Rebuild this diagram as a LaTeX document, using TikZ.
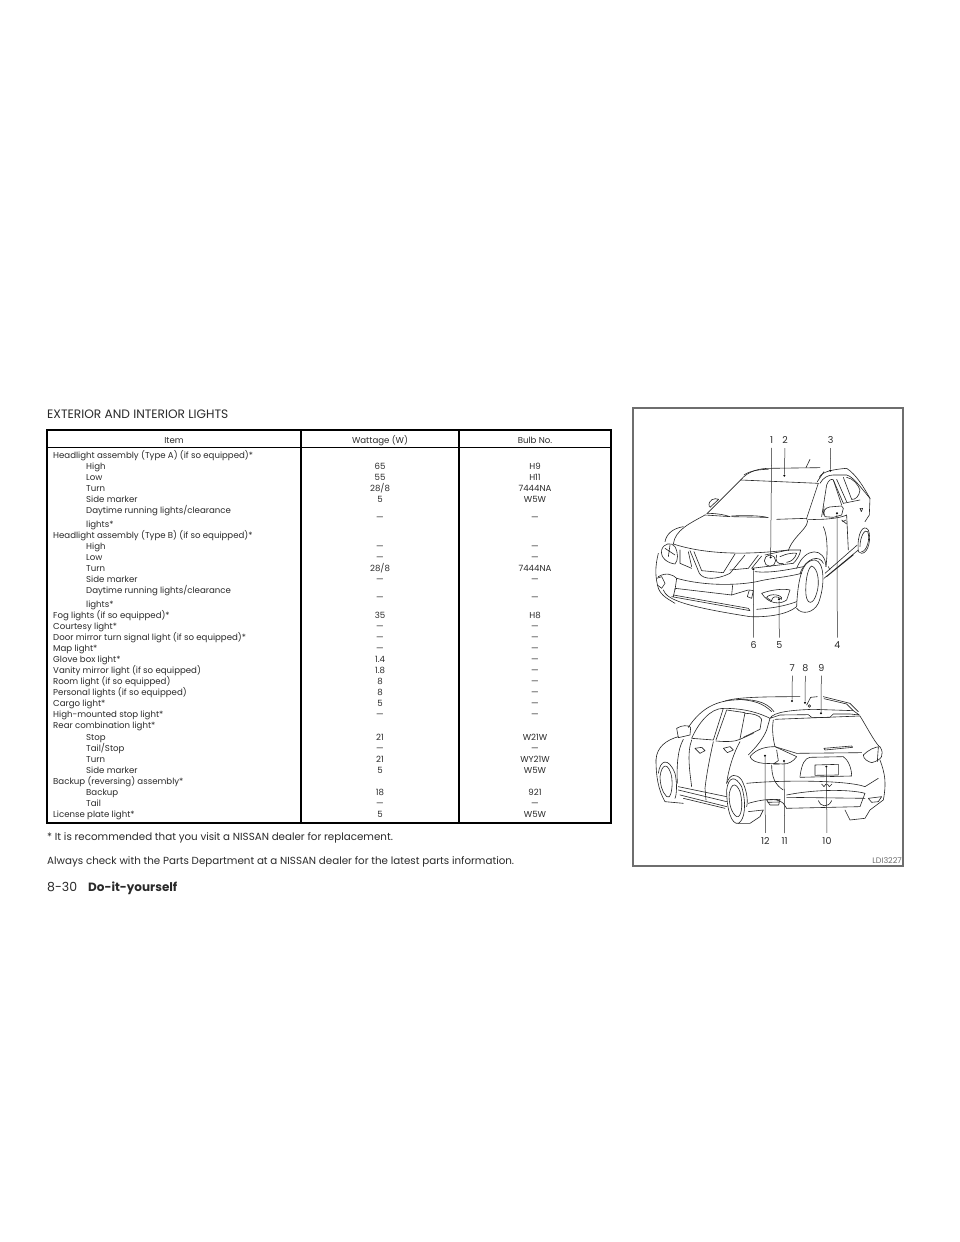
\documentclass[tikz,border=0pt]{standalone}
\usepackage{fontspec}
\setmainfont{Poppins}
\definecolor{ink}{HTML}{2A2A2A}
\definecolor{framec}{HTML}{6E6E6E}
\tikzset{
 cell/.style={inner sep=0pt,font=\fontsize{8.6}{10}\selectfont,text=ink},
 li/.style={cell,anchor=base west},
 ce/.style={cell,anchor=base},
 rule/.style={line width=1.5pt,black},
 car/.style={line width=0.6pt,black!85,line join=round,line cap=round},
 lead/.style={line width=0.5pt,black!85},
 num/.style={inner sep=0pt,font=\fontsize{9.5}{10}\selectfont,text=ink},
 pin/.style={circle,fill=black,inner sep=0pt,minimum size=2.2pt},
}
\begin{document}
\begin{tikzpicture}[x=1pt,y=-1pt]
\useasboundingbox[fill=white] (0,0) rectangle (960,1242);
\node[anchor=base west,inner sep=0pt,font=\fontsize{12.2}{14}\selectfont,text=ink] (title) at (47,418) {EXTERIOR AND INTERIOR LIGHTS};
% table
\draw[rule] (47,430) rectangle (611,823);
\draw[line width=0.9pt] (47,447.5) -- (611,447.5);
\draw[rule] (301,430) -- (301,823) (459,430) -- (459,823);
\node[ce] (hi) at (174,443.5) {Item};
\node[ce] (hw) at (380,443.5) {Wattage (W)};
\node[ce] (hb) at (535,443.5) {Bulb No.};
\foreach \t/\y in {Headlight assembly (Type A) (if so equipped)*/458.5,Headlight assembly (Type B) (if so equipped)*/538.5,Fog lights (if so equipped)*/618.5,Courtesy light*/629.5,Door mirror turn signal light (if so equipped)*/640.5,Map light*/651.5,Glove box light*/662.5,Vanity mirror light (if so equipped)/673.5,Room light (if so equipped)/684.5,Personal lights (if so equipped)/695.5,Cargo light*/706.5,High-mounted stop light*/717.5,Rear combination light*/728.5,Backup (reversing) assembly*/784.5,License plate light*/817.5}
  \node[li] at (53,\y) {\t};
\foreach \t/\y in {High/469.5,Low/480.5,Turn/491.5,Side marker/502.5,Daytime running lights\slash clearance/513.5,lights*/527.5,High/549.5,Low/560.5,Turn/571.5,Side marker/582.5,Daytime running lights\slash clearance/593.5,lights*/607.5,Stop/740.5,Tail\slash Stop/751.5,Turn/762.5,Side marker/773.5,Backup/795.5,Tail/806.5}
  \node[li] at (86,\y) {\t};
\foreach \t/\y in {65/469.5,55/480.5,28\slash 8/491.5,5/502.5,—/520.5,—/549.5,—/560.5,28\slash 8/571.5,—/582.5,—/600.5,35/618.5,—/629.5,—/640.5,—/651.5,1.4/662.5,1.8/673.5,8/684.5,8/695.5,5/706.5,—/717.5,21/740.5,—/751.5,21/762.5,5/773.5,18/795.5,—/806.5,5/817.5}
  \node[ce] at (380,\y) {\t};
\foreach \t/\y in {H9/469.5,H11/480.5,7444NA/491.5,W5W/502.5,—/520.5,—/549.5,—/560.5,7444NA/571.5,—/582.5,—/600.5,H8/618.5,—/629.5,—/640.5,—/651.5,—/662.5,—/673.5,—/684.5,—/695.5,—/706.5,—/717.5,W21W/740.5,—/751.5,WY21W/762.5,W5W/773.5,921/795.5,—/806.5,W5W/817.5}
  \node[ce] at (535,\y) {\t};
\node[anchor=base west,inner sep=0pt,font=\fontsize{10.3}{12}\selectfont,text=ink] (n1) at (47,840) {* It is recommended that you visit a NISSAN dealer for replacement.};
\node[anchor=base west,inner sep=0pt,font=\fontsize{10.3}{12}\selectfont,text=ink] (n2) at (47,864) {Always check with the Parts Department at a NISSAN dealer for the latest parts information.};
\node[anchor=base west,inner sep=0pt,font=\fontsize{12.5}{14}\selectfont,text=ink] (pg) at (47,891) {8-30};
\node[anchor=base west,inner sep=0pt,font=\fontsize{12}{14}\selectfont\bfseries,text=ink] (ch) at (88,891) {Do-it-yourself};
% figure frame
\draw[framec,line width=1.1pt] (633,408) rectangle (903,866);
\node[anchor=base east,inner sep=0pt,font=\fontsize{8}{9}\selectfont,text=framec] (code) at (902,863) {LDI3227};
% FRONT CAR
\begin{scope}[shift={(620,400)},x=0.3333pt,y=-0.3333pt]
\draw[car] (362,240) .. controls (385,212) and (420,205) .. (450,205) -- (600,203);
\draw[car] (372,225) .. controls (390,212) and (420,208) .. (445,208);
\draw[car] (558,203) -- (570,178);
\draw[car] (598,232) .. controls (605,215) and (640,208) .. (680,205);
\draw[car] (592,245) -- (612,215);
\draw[car] (362,240) -- (595,250);
\draw[car] (362,240) -- (262,340);
\draw[car] (268,320) .. controls (262,300) and (285,292) .. (296,298) -- (270,322) ;
\draw[car] (255,345) -- (330,350) (335,350) -- (440,352) (470,358) -- (560,355);
\draw[car] (260,340) .. controls (285,340) and (310,343) .. (330,350);
\draw[car] (335,348) .. controls (370,346) and (420,346) .. (445,353);
\draw[car] (595,250) -- (560,355);
\draw[car] (255,345) .. controls (210,370) and (165,390) .. (160,432);
\draw[car] (190,380) .. controls (160,385) and (140,400) .. (135,425);
\draw[car] (560,355) .. controls (575,380) and (520,405) .. (505,452);
\draw[car] (160,432) .. controls (230,455) and (340,470) .. (505,450);
\draw[car] (125,450) .. controls (130,430) and (155,425) .. (165,440) .. controls (175,460) and (175,480) .. (165,492) .. controls (145,490) and (120,475) .. (125,450);
\draw[car] (135,445) -- (165,465) (150,435) -- (145,470);
\draw[car] (115,460) .. controls (105,500) and (105,530) .. (115,565) .. controls (125,590) and (150,600) .. (165,610);
\draw[car] (180,450) -- (180,490) -- (215,505) (205,455) -- (215,500);
\draw[car] (210,452) -- (238,520) .. controls (250,540) and (290,540) .. (330,520) -- (375,465);
\draw[car] (222,455) -- (245,512) -- (310,518) -- (345,462);
\draw[car] (330,510) -- (385,505) -- (415,465);
\draw[car] (425,468) -- (395,505) -- (520,490) .. controls (530,480) and (540,465) .. (542,450) -- (505,450) -- (435,465);
\draw[car] (470,465) .. controls (465,480) and (470,495) .. (490,490);
\draw[car] (435,478) circle[radius=0] (450,482) circle[radius=17];
\draw[car] (480,470) .. controls (500,460) and (525,458) .. (530,460) .. controls (525,475) and (515,485) .. (500,487);
\draw[car] (405,515) .. controls (450,520) and (500,510) .. (550,500);
\draw[car] (170,535) .. controls (260,560) and (360,555) .. (410,545) .. controls (450,535) and (510,530) .. (545,520);
\draw[car] (115,530) .. controls (140,515) and (160,525) .. (170,535) -- (165,570);
\draw[car] (110,535) -- (125,530) -- (135,550) -- (125,565) -- (112,555);
\draw[car] (165,565) -- (335,585) -- (338,555);
\draw[car] (335,585) -- (385,570);
\draw[car] (160,590) -- (165,567) (155,590) -- (390,632) -- (385,625) -- (160,585);
\draw[car] (130,570) .. controls (140,600) and (200,620) .. (390,650) .. controls (440,652) and (500,645) .. (530,620);
\draw[car] (410,628) .. controls (450,625) and (490,620) .. (530,605);
\draw[car] (388,570) -- (382,590) -- (395,595) -- (400,572) -- cycle;
\draw[car] (425,580) .. controls (450,570) and (490,565) .. (510,570) -- (500,600) .. controls (480,615) and (445,612) .. (425,580);
\draw[car] (440,592) .. controls (450,578) and (490,585) .. (485,598) .. controls (470,585) and (455,590) .. (455,602) .. controls (450,600) and (445,598) .. (440,592);
\draw[car] (530,505) .. controls (555,440) and (615,440) .. (618,500);
\draw[car] (540,520) .. controls (560,470) and (600,465) .. (610,490);
\draw[car] (530,620) .. controls (535,500) and (560,480) .. (585,480) .. controls (615,485) and (615,560) .. (595,610) .. controls (580,640) and (545,645) .. (530,625);
\draw[car] (575,498) .. controls (595,505) and (600,550) .. (590,580) .. controls (580,615) and (562,615) .. (558,585) .. controls (555,550) and (562,505) .. (575,498);
\draw[car] (600,250) .. controls (610,232) and (625,225) .. (640,225) -- (680,225) .. controls (700,230) and (720,260) .. (750,295);
\draw[car] (680,205) .. controls (710,225) and (730,260) .. (750,295) -- (748,345) -- (735,365);
\draw[car] (605,350) -- (620,255) .. controls (625,240) and (635,235) .. (640,240) -- (665,315) ;
\draw[car] (640,240) -- (670,310);
\draw[car] (610,345) -- (612,320);
\draw[car] (650,238) -- (680,305);
\draw[car] (670,232) -- (695,298);
\draw[car] (680,232) .. controls (700,235) and (715,255) .. (720,270) .. controls (718,290) and (705,300) .. (695,298);
\draw[car] (612,340) .. controls (610,325) and (625,320) .. (640,320) -- (665,318) -- (670,325) -- (665,345) -- (640,352) -- (615,350) -- cycle;
\draw[car] (670,310) -- (720,300);
\draw[car] (565,358) .. controls (610,360) and (660,355) .. (680,345) -- (685,450);
\draw[car] (665,360) -- (680,372) (668,365) -- (678,360);
\draw[car] (720,325) -- (728,325) -- (724,335) -- cycle;
\draw[car] (715,455) .. controls (710,400) and (730,370) .. (745,390) .. controls (755,415) and (745,460) .. (725,460) -- (715,455);
\draw[car] (720,440) .. controls (720,410) and (735,385) .. (743,395) .. controls (752,415) and (740,455) .. (725,455);
\draw[car] (615,520) -- (712,435) (612,535) -- (715,450) (620,530) -- (700,465) ;
\draw[car] (625,500) -- (630,510) (610,380) .. controls (620,400) and (625,440) .. (618,500);
\end{scope}
% REAR CAR
\begin{scope}[shift={(620,640)},x=0.3333pt,y=-0.3333pt]
\draw[car] (315,183) .. controls (350,172) and (420,170) .. (540,170);
\draw[car] (610,170) -- (690,190) -- (715,215);
\draw[car] (612,176) -- (680,192) -- (700,212);
\draw[car] (560,195) -- (572,172) -- (592,170) (560,195) circle[radius=0];
\draw[car] (568,198) circle[radius=4];
\draw[car] (340,180) .. controls (400,175) and (440,185) .. (462,215);
\draw[car] (350,178) .. controls (400,180) and (430,190) .. (455,215);
\draw[car] (450,235) .. controls (460,215) and (520,210) .. (580,208) -- (700,212) -- (718,225) -- (690,222) -- (640,222) -- (630,232) -- (575,232) -- (565,224) -- (480,225) -- (450,235);
\draw[car] (108,360) .. controls (110,320) and (140,300) .. (175,290);
\draw[car] (205,262) .. controls (240,210) and (280,185) .. (340,180);
\draw[car] (170,265) .. controls (185,255) and (205,255) .. (212,262) -- (210,285) -- (175,293) -- cycle;
\draw[car] (215,295) .. controls (235,250) and (270,205) .. (310,205) -- (280,300) -- (215,295);
\draw[car] (288,300) -- (320,210) -- (375,218) -- (360,297);
\draw[car] (288,303) .. controls (320,306) and (345,305) .. (360,298) -- (400,280);
\draw[car] (375,220) .. controls (395,220) and (420,225) .. (425,238) -- (420,268) -- (370,292) ;
\draw[car] (310,205) .. controls (350,205) and (400,210) .. (450,235) -- (440,270) .. controls (430,295) and (410,320) .. (385,345);
\draw[car] (460,240) .. controls (455,270) and (460,300) .. (465,320);
\draw[car] (465,238) -- (720,228) .. controls (740,260) and (760,300) .. (778,320);
\draw[car] (465,320) -- (530,340) -- (725,338);
\draw[car] (612,325) -- (695,318) -- (698,322) -- (615,330) -- cycle;
\draw[car] (390,350) .. controls (410,325) and (440,320) .. (465,320) -- (530,350) .. controls (520,365) and (505,372) .. (490,372) -- (430,370) .. controls (410,368) and (395,362) .. (390,350);
\draw[car] (470,330) -- (475,362) -- (460,372) -- (478,372);
\draw[car] (730,345) .. controls (745,330) and (765,320) .. (780,320) .. controls (795,345) and (785,360) .. (755,368) .. controls (745,365) and (730,358) .. (730,345);
\draw[car] (775,322) -- (772,365);
\draw[car] (780,360) .. controls (795,400) and (800,430) .. (790,480) -- (750,510) -- (735,535) -- (690,540) -- (675,510);
\draw[car] (540,410) .. controls (545,370) and (555,355) .. (570,352) -- (670,350) .. controls (685,360) and (695,385) .. (695,408) -- (540,412);
\draw[car] (585,375) -- (655,373) -- (655,405) -- (585,406) -- cycle;
\draw[car] (380,430) .. controls (480,420) and (680,420) .. (735,440) -- (775,415);
\draw[car] (455,375) .. controls (455,410) and (465,435) .. (490,450);
\draw[car] (605,432) -- (612,440) -- (618,432) (622,432) -- (628,440) -- (636,432);
\draw[car] (500,465) .. controls (600,445) and (700,450) .. (735,460) -- (720,500) -- (500,505);
\draw[car] (595,482) .. controls (600,500) and (625,505) .. (635,482);
\draw[car] (500,472) -- (735,475);
\draw[car] (440,480) -- (480,478) -- (476,495) -- (450,495) -- cycle (443,487) -- (478,486);
\draw[car] (745,475) -- (785,470) -- (775,485) -- (755,487) -- cycle;
\draw[car] (385,490) .. controls (420,480) and (470,470) .. (490,490) -- (500,505);
\draw[car] (108,360) .. controls (108,410) and (115,450) .. (135,485) -- (190,490);
\draw[car] (115,400) .. controls (120,360) and (145,350) .. (165,400) .. controls (172,430) and (170,465) .. (165,475);
\draw[car] (120,410) .. controls (125,370) and (145,365) .. (155,410) .. controls (160,450) and (150,480) .. (140,470) .. controls (125,455) and (120,430) .. (120,410);
\draw[car] (172,430) .. controls (170,380) and (172,330) .. (190,298);
\draw[car] (215,300) .. controls (200,340) and (210,400) .. (215,440);
\draw[car] (280,305) .. controls (270,350) and (260,400) .. (255,445) -- (258,480);
\draw[car] (360,305) .. controls (340,340) and (325,390) .. (320,430);
\draw[car] (175,440) -- (320,470) (175,450) -- (320,485) (180,465) -- (320,500) (190,475) -- (315,505);
\draw[car] (320,430) .. controls (330,400) and (350,400) .. (365,420) .. controls (380,450) and (385,480) .. (380,500);
\draw[car] (320,450) .. controls (325,410) and (345,405) .. (365,440) .. controls (380,490) and (375,540) .. (355,550) .. controls (335,555) and (320,510) .. (320,450);
\draw[car] (328,460) .. controls (335,425) and (350,430) .. (360,455) .. controls (372,500) and (362,535) .. (350,530) .. controls (335,520) and (325,490) .. (328,460);
\draw[car] (355,550) -- (390,550) -- (420,530) -- (430,510) -- (385,515);
\draw[car] (225,325) -- (245,322) -- (255,332) -- (240,340) -- cycle (310,325) -- (330,320) -- (340,330) -- (322,338) -- cycle;
\end{scope}
% pins and leaders
\begin{scope}[shift={(620,400)},x=0.3333pt,y=-0.3333pt]
\node[num] (l1) at (455,121) {1};
\node[num] (l2) at (495,121) {2};
\node[num] (l3) at (632,121) {3};
\node[num] (l4) at (652,736) {4};
\node[num] (l5) at (478,736) {5};
\node[num] (l6) at (401,736) {6};
\node[pin] (p1) at (452,472) {};
\node[pin] (p2) at (493,227) {};
\node[pin] (p3) at (631,212) {};
\node[pin] (p4) at (651,340) {};
\node[pin] (p5) at (477,598) {};
\node[pin] (p6) at (400,508) {};
\draw[lead] (l1.south)++(0,12) -- (p1);
\draw[lead] (l2.south)++(0,12) -- (p2);
\draw[lead] (l3.south)++(0,12) -- (p3);
\draw[lead] (l4.north)++(0,-12) -- (p4);
\draw[lead] (l5.north)++(0,-12) -- (p5);
\draw[lead] (l6.north)++(0,-12) -- (p6);
\end{scope}
\begin{scope}[shift={(620,640)},x=0.3333pt,y=-0.3333pt]
\node[num] (l7) at (517,84) {7};
\node[num] (l8) at (556,84) {8};
\node[num] (l9) at (604,84) {9};
\node[num] (l10) at (621,602) {10};
\node[num] (l11) at (494,602) {11};
\node[num] (l12) at (436,602) {12};
\node[pin] (p7) at (516,183) {};
\node[pin] (p8) at (555,188) {};
\node[pin] (p9) at (603,220) {};
\node[pin] (p10) at (619,380) {};
\node[pin] (p11) at (492,363) {};
\node[pin] (p12) at (435,347) {};
\draw[lead] (l7.south)++(0,12) -- (p7);
\draw[lead] (l8.south)++(0,12) -- (p8);
\draw[lead] (l9.south)++(0,12) -- (p9);
\draw[lead] (l10.north)++(0,-12) -- (p10);
\draw[lead] (l11.north)++(0,-12) -- (p11);
\draw[lead] (l12.north)++(0,-12) -- (p12);
\end{scope}
\end{tikzpicture}
\end{document}
